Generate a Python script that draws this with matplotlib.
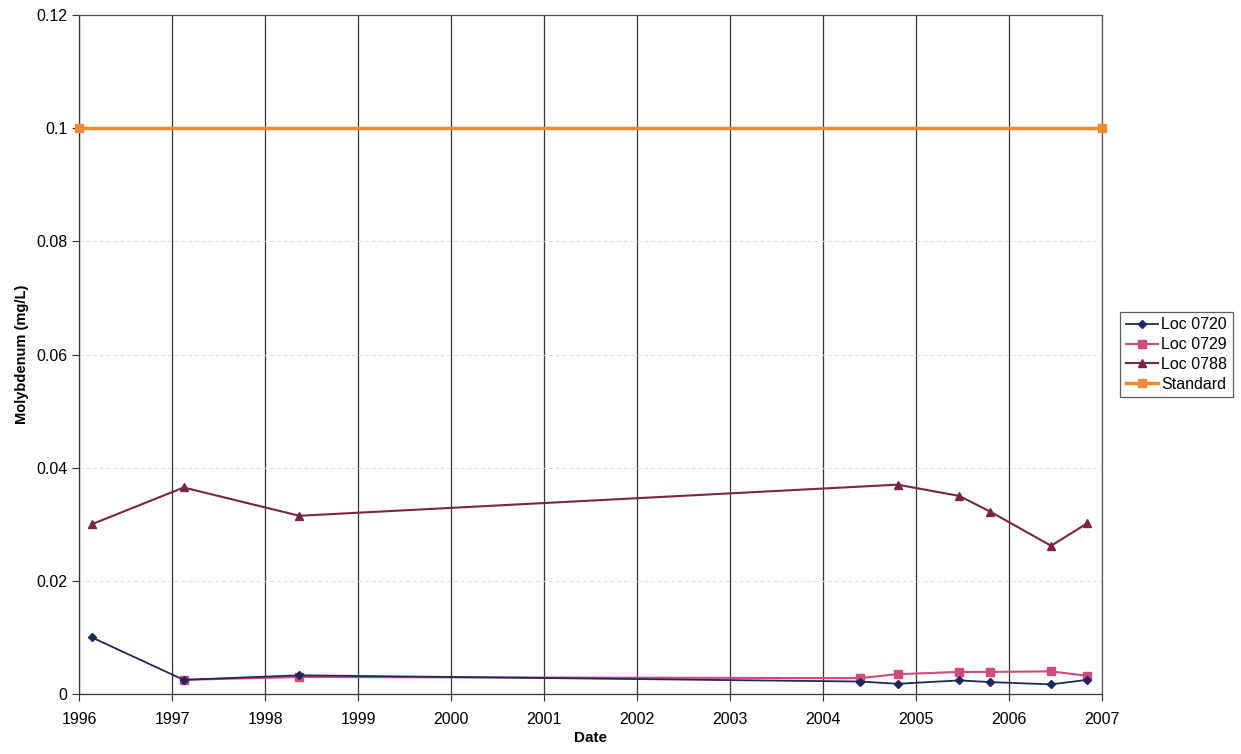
import matplotlib
matplotlib.use("Agg")
import matplotlib.pyplot as plt
import matplotlib.dates as mdates
import pandas as pd

plt.rcParams["font.family"] = ["Liberation Sans", "DejaVu Sans"]

# Loc 0720
dates_0720 = ["1996-02-20", "1997-02-15", "1998-05-15", "2004-05-25", "2004-10-20",
              "2005-06-20", "2005-10-20", "2006-06-15", "2006-11-05"]
mo_0720 = [0.010, 0.0025, 0.0033, 0.0022, 0.0018, 0.0024, 0.0021, 0.0017, 0.0025]

# Loc 0729
dates_0729 = ["1997-02-15", "1998-05-15", "2004-05-25", "2004-10-20",
              "2005-06-20", "2005-10-20", "2006-06-15", "2006-11-05"]
mo_0729 = [0.0025, 0.0030, 0.0028, 0.0035, 0.0039, 0.0039, 0.0040, 0.0032]

# Loc 0788
dates_0788 = ["1996-02-20", "1997-02-15", "1998-05-15", "2004-10-20",
              "2005-06-20", "2005-10-20", "2006-06-15", "2006-11-05"]
mo_0788 = [0.0300, 0.0365, 0.0315, 0.0370, 0.0350, 0.0322, 0.0262, 0.0302]

# Standard
dates_std = ["1996-01-01", "2007-01-01"]
mo_std = [0.1, 0.1]

fig = plt.figure(figsize=(12.41, 7.54), dpi=100)
ax = fig.add_axes([0.0637, 0.0796, 0.8243, 0.9004])

ax.plot(pd.to_datetime(dates_0720), mo_0720, color="#1f2858", marker="D", ms=4.5,
        lw=1.3, label="Loc 0720", zorder=4)
ax.plot(pd.to_datetime(dates_0729), mo_0729, color="#d04a80", marker="s", ms=6,
        lw=1.5, label="Loc 0729", zorder=3)
ax.plot(pd.to_datetime(dates_0788), mo_0788, color="#7a2448", marker="^", ms=6,
        lw=1.5, label="Loc 0788", zorder=3)
ax.plot(pd.to_datetime(dates_std), mo_std, color="#f28a30", marker="s", ms=6,
        lw=2.5, label="Standard", zorder=3, clip_on=False)

ax.set_xlim(pd.Timestamp("1996-01-01"), pd.Timestamp("2007-01-01"))
ax.set_ylim(0, 0.12)
ax.xaxis.set_major_locator(mdates.YearLocator())
ax.xaxis.set_major_formatter(mdates.DateFormatter("%Y"))
ax.set_yticks([0, 0.02, 0.04, 0.06, 0.08, 0.1, 0.12])
ax.set_yticklabels(["0", "0.02", "0.04", "0.06", "0.08", "0.1", "0.12"])
ax.tick_params(labelsize=11.5, length=5, color="#333333")
ax.tick_params(axis="x", pad=8)

ax.grid(True, axis="x", color="#333333", lw=0.9)
ax.grid(True, axis="y", color="#dddddd", lw=0.7, ls=(0, (4, 3)))
ax.set_axisbelow(True)
for s in ax.spines.values():
    s.set_color("#555555")
    s.set_linewidth(0.9)
ax.spines["left"].set_color("#333333")
ax.spines["bottom"].set_color("#333333")

ax.set_xlabel("Date", fontsize=11, fontweight="bold", labelpad=3)
ax.set_ylabel("Molybdenum (mg/L)", fontsize=10.5, fontweight="bold", labelpad=5)

leg = ax.legend(loc="center left", bbox_to_anchor=(1.018, 0.5), fontsize=11.5,
                frameon=True, fancybox=False, borderpad=0.35, labelspacing=0.3,
                handlelength=2.0, handletextpad=0.2, borderaxespad=0)
leg.get_frame().set_edgecolor("#333333")
leg.get_frame().set_linewidth(0.9)

fig.savefig("out.png", dpi=100)
